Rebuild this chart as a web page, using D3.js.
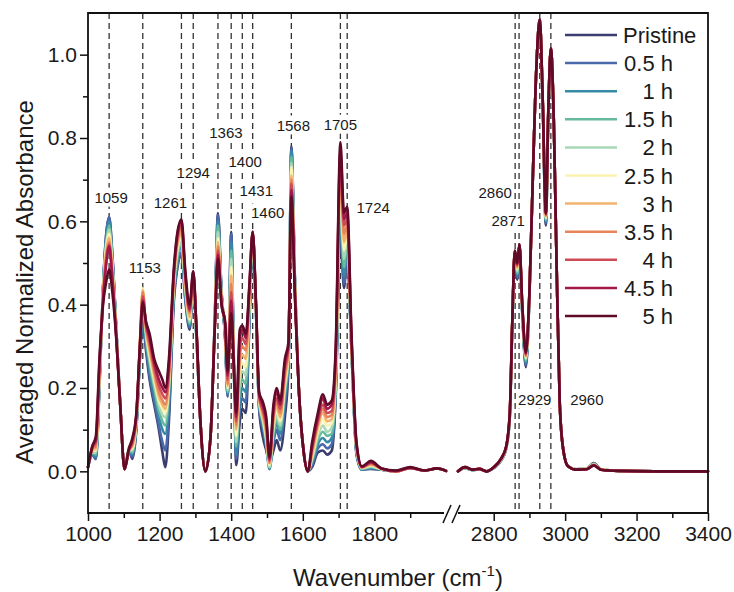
<!DOCTYPE html>
<html>
<head>
<meta charset="utf-8">
<script src="https://cdn.jsdelivr.net/npm/d3@7"></script>
<style>
  body { margin: 0; background: #fff; }
  text { font-family: Arial, "Liberation Sans", sans-serif; fill: #1a1a1a; }
</style>
</head>
<body>
<svg id="chart" width="734" height="592"></svg>
<script>
// wavenumber grids (left and right of the axis break)
const waveL = [1000,1012,1022,1032,1042,1050,1059,1068,1078,1090,1102,1114,1124,1135,1145,1153,1162,1172,1185,1198,
  1208,1216,1226,1240,1250,1261,1272,1284,1294,1303,1314,1328,1342,1354,1363,1373,1383,1390,1400,1407,
  1414,1424,1431,1441,1451,1460,1469,1478,1489,1498,1507,1518,1527,1537,1550,1560,1568,1578,1590,1602,
  1614,1626,1642,1656,1668,1681,1692,1705,1715,1724,1736,1750,1765,1790,1820,1860,1900,1940,1975,2000];
const waveR = [2700,2720,2740,2760,2780,2800,2820,2835,2845,2852,2859,2866,2872,2880,2890,2900,2910,2920,2929,2937,
  2946,2953,2960,2968,2976,2985,2995,3008,3030,3060,3080,3100,3150,3250,3400];

const seriesNames = ["Pristine", "0.5 h", "1 h", "1.5 h", "2 h", "2.5 h", "3 h", "3.5 h", "4 h", "4.5 h", "5 h"];
const seriesColors = ["#3b3d6e", "#4a69aa", "#3889a8", "#66bb9e", "#a9d8b6", "#fbf3b0",
  "#f2b36f", "#e8845a", "#cd4b57", "#a3174a", "#5f0b28"];

// absorbance, left segment
const absPristineL = [.01,.04,.03,.20,.44,.56,.61,.52,.36,.16,
  .005,.05,.03,.10,.27,.36,.29,.22,.16,.10,
  .045,.01,.12,.41,.49,.52,.41,.34,.45,.32,
  .12,0,.08,.36,.62,.43,.32,.18,.575,.28,
  .015,.12,.15,.14,.36,.565,.39,.15,.08,.05,
  .02,.05,.075,.05,.13,.25,.78,.46,.18,.05,
  0,.01,.045,.05,.04,.05,.18,.58,.44,.52,
  .29,.04,.004,.006,.004,0,.008,.002,.007,.001];
const abs05L = [.01,.04,.03,.21,.44,.56,.61,.52,.36,.16,
  .005,.05,.035,.105,.275,.37,.30,.23,.17,.11,
  .07,.05,.14,.42,.495,.525,.415,.345,.45,.32,
  .12,0,.08,.36,.615,.43,.32,.18,.57,.28,
  .03,.15,.175,.165,.37,.565,.39,.155,.10,.06,
  .01,.07,.10,.075,.16,.26,.775,.46,.18,.05,
  0,.015,.055,.065,.055,.065,.19,.60,.45,.53,
  .29,.045,.004,.007,.004,0,.008,.002,.007,.001];
const abs1L = [.01,.04,.035,.21,.44,.55,.60,.51,.36,.16,
  .005,.05,.04,.11,.28,.39,.31,.245,.185,.13,
  .10,.09,.17,.43,.505,.54,.425,.35,.455,.325,
  .12,0,.08,.355,.60,.425,.325,.185,.55,.28,
  .04,.17,.20,.19,.38,.565,.39,.16,.11,.06,
  .005,.08,.115,.09,.18,.27,.77,.455,.18,.05,
  0,.02,.065,.08,.07,.08,.20,.62,.47,.54,
  .295,.045,.005,.008,.004,0,.008,.002,.007,.001];
const abs15L = [.01,.045,.04,.22,.43,.54,.59,.50,.355,.16,
  .005,.05,.045,.115,.29,.41,.32,.26,.20,.145,
  .12,.11,.19,.44,.515,.545,.43,.355,.46,.325,
  .12,0,.08,.355,.59,.42,.33,.19,.53,.27,
  .06,.20,.22,.21,.39,.57,.395,.165,.115,.07,
  .01,.09,.125,.10,.19,.275,.755,.45,.18,.05,
  0,.025,.075,.095,.085,.09,.21,.645,.49,.55,
  .295,.05,.006,.01,.005,0,.008,.002,.007,.001];
const abs2L = [.01,.045,.045,.22,.43,.535,.58,.50,.35,.16,
  .005,.05,.05,.12,.30,.43,.33,.27,.21,.16,
  .135,.13,.20,.45,.525,.55,.44,.36,.46,.33,
  .12,0,.08,.35,.575,.42,.335,.195,.51,.27,
  .07,.22,.24,.23,.40,.57,.395,.17,.12,.075,
  .01,.10,.135,.11,.20,.28,.74,.45,.18,.05,
  0,.03,.085,.11,.095,.105,.22,.665,.51,.56,
  .30,.05,.007,.012,.005,0,.008,.002,.007,.001];
const abs25L = [.01,.05,.05,.23,.43,.53,.57,.49,.35,.16,
  .005,.05,.055,.12,.31,.44,.335,.28,.22,.17,
  .15,.14,.21,.455,.535,.56,.445,.365,.465,.33,
  .12,0,.08,.35,.56,.415,.34,.20,.49,.27,
  .085,.24,.26,.25,.41,.57,.40,.17,.125,.08,
  .015,.11,.145,.12,.21,.285,.73,.445,.18,.05,
  0,.035,.095,.125,.11,.115,.23,.69,.53,.57,
  .30,.055,.008,.014,.005,0,.008,.002,.007,.001];
const abs3L = [.01,.05,.055,.23,.42,.52,.56,.48,.345,.16,
  .005,.05,.06,.125,.31,.435,.34,.29,.23,.18,
  .16,.15,.22,.46,.545,.57,.45,.37,.47,.335,
  .12,0,.08,.35,.55,.41,.345,.205,.47,.27,
  .10,.26,.28,.27,.42,.57,.40,.175,.13,.09,
  .02,.12,.155,.13,.22,.29,.71,.44,.18,.05,
  0,.04,.105,.14,.12,.125,.24,.71,.55,.58,
  .305,.055,.009,.016,.006,0,.008,.002,.007,.001];
const abs35L = [.01,.055,.06,.24,.42,.51,.55,.47,.34,.16,
  .005,.05,.065,.13,.305,.43,.345,.30,.24,.19,
  .17,.16,.23,.47,.555,.58,.46,.38,.47,.335,
  .12,0,.08,.345,.54,.41,.35,.21,.45,.26,
  .11,.28,.30,.29,.43,.57,.40,.18,.14,.10,
  .02,.13,.165,.14,.235,.295,.70,.435,.18,.05,
  0,.05,.115,.15,.13,.135,.255,.73,.57,.59,
  .31,.06,.01,.018,.006,0,.008,.002,.007,.001];
const abs4L = [.01,.055,.07,.25,.41,.50,.545,.47,.34,.16,
  .005,.05,.07,.13,.30,.42,.35,.31,.25,.205,
  .185,.175,.24,.475,.56,.59,.465,.385,.475,.34,
  .12,0,.08,.345,.53,.405,.35,.22,.43,.26,
  .12,.30,.32,.305,.44,.575,.405,.18,.145,.11,
  .025,.14,.175,.15,.245,.30,.69,.43,.18,.05,
  0,.055,.12,.16,.14,.145,.27,.75,.59,.605,
  .315,.06,.01,.02,.006,0,.008,.002,.007,.001];
const abs45L = [.01,.06,.075,.26,.41,.49,.54,.46,.335,.16,
  .005,.05,.075,.135,.30,.41,.355,.32,.26,.22,
  .20,.19,.255,.48,.57,.60,.47,.39,.48,.34,
  .12,0,.08,.34,.52,.40,.355,.23,.41,.26,
  .13,.32,.34,.32,.445,.575,.405,.185,.155,.12,
  .03,.15,.19,.16,.26,.305,.675,.425,.18,.05,
  0,.06,.13,.175,.15,.16,.285,.77,.605,.62,
  .32,.065,.011,.022,.007,.001,.008,.002,.007,.001];
const abs5L = [.01,.06,.085,.27,.40,.45,.485,.43,.33,.16,
  .005,.055,.08,.14,.30,.405,.36,.33,.27,.24,
  .22,.20,.27,.49,.575,.605,.48,.40,.48,.34,
  .12,0,.08,.34,.51,.40,.36,.24,.38,.26,
  .14,.34,.35,.33,.45,.575,.41,.19,.165,.13,
  .035,.16,.20,.17,.27,.31,.66,.42,.18,.05,
  0,.07,.14,.185,.16,.17,.30,.79,.62,.635,
  .33,.07,.012,.025,.007,.002,.01,.002,.007,.001];

// absorbance, right segment
const absPristineR = [0,.008,.003,.005,0,.008,.025,.055,.13,.35,
  .52,.46,.535,.38,.25,.42,.72,.98,1.085,.89,
  .59,.86,1.015,.85,.50,.16,.05,.012,.005,.006,
  .02,.005,.001,0,0];
const abs05R = [0,.008,.003,.005,0,.008,.025,.055,.13,.35,
  .52,.465,.535,.38,.255,.42,.72,.98,1.085,.89,
  .595,.86,1.015,.85,.50,.16,.05,.012,.005,.006,
  .019,.005,.001,0,0];
const abs1R = [0,.008,.003,.005,0,.008,.026,.056,.132,.352,
  .522,.47,.537,.385,.26,.422,.72,.98,1.085,.892,
  .60,.862,1.015,.85,.50,.16,.05,.012,.005,.006,
  .018,.005,.001,0,0];
const abs15R = [0,.008,.003,.005,0,.008,.026,.056,.134,.353,
  .524,.475,.538,.388,.265,.424,.72,.98,1.085,.894,
  .603,.864,1.015,.85,.50,.16,.05,.012,.005,.006,
  .018,.005,.001,0,0];
const abs2R = [0,.009,.003,.005,0,.009,.027,.057,.136,.355,
  .525,.48,.54,.39,.27,.425,.72,.98,1.085,.895,
  .606,.865,1.015,.85,.50,.16,.05,.012,.005,.006,
  .017,.005,.001,0,0];
const abs25R = [0,.009,.004,.005,0,.009,.027,.057,.137,.356,
  .526,.485,.54,.392,.272,.426,.72,.98,1.085,.896,
  .609,.866,1.015,.85,.50,.16,.05,.012,.005,.006,
  .016,.005,.001,0,0];
const abs3R = [0,.009,.004,.006,0,.009,.028,.058,.138,.357,
  .527,.488,.542,.394,.275,.427,.72,.98,1.085,.897,
  .612,.867,1.015,.85,.50,.16,.05,.012,.005,.006,
  .016,.005,.001,0,0];
const abs35R = [0,.01,.004,.006,0,.01,.028,.058,.138,.358,
  .528,.491,.543,.396,.278,.428,.72,.98,1.085,.898,
  .614,.868,1.015,.85,.50,.16,.05,.012,.004,.005,
  .015,.004,.001,0,0];
const abs4R = [0,.01,.004,.006,0,.01,.029,.059,.139,.359,
  .529,.494,.544,.397,.28,.429,.72,.98,1.085,.899,
  .616,.869,1.015,.85,.50,.16,.05,.012,.004,.005,
  .015,.004,.001,0,0];
const abs45R = [0,.01,.004,.006,0,.01,.03,.06,.14,.36,
  .53,.497,.545,.399,.283,.43,.72,.98,1.085,.90,
  .618,.87,1.015,.85,.50,.16,.05,.012,.004,.005,
  .014,.004,.001,0,0];
const abs5R = [0,.01,.004,.006,0,.01,.03,.06,.14,.36,
  .53,.50,.545,.40,.285,.43,.72,.98,1.085,.90,
  .62,.87,1.015,.85,.50,.16,.05,.012,.004,.005,
  .014,.004,.001,0,0];

const leftSets = [absPristineL, abs05L, abs1L, abs15L, abs2L, abs25L, abs3L, abs35L, abs4L, abs45L, abs5L];
const rightSets = [absPristineR, abs05R, abs1R, abs15R, abs2R, abs25R, abs3R, abs35R, abs4R, abs45R, abs5R];

// marked bands and where their labels sit (label offset px, label level in absorbance units)
const peakWaves = [1059, 1153, 1261, 1294, 1363, 1400, 1431, 1460, 1568, 1705, 1724, 2860, 2871, 2929, 2960];
const peakLabelDx = [2, 2, -11, 0, 8, 14, 14, 15, 2, 0, 26, -20, -11, -5, 36];
const peakLabelLevel = [0.645, 0.475, 0.633, 0.705, 0.801, 0.731, 0.662, 0.607, 0.818, 0.82, 0.621, 0.657, 0.59, 0.16, 0.16];

const yMajor = [0, 0.2, 0.4, 0.6, 0.8, 1.0];
const yMinor = [0.1, 0.3, 0.5, 0.7, 0.9];
const xMajorL = [1000, 1200, 1400, 1600, 1800];
const xMinorL = [1100, 1300, 1500, 1700, 1900];
const xMajorR = [2800, 3000, 3200, 3400];
const xMinorR = [2900, 3100, 3300];

const svg = d3.select("#chart");
const plotL = 88, plotR = 708, plotT = 13, plotB = 513;

const xL = d3.scaleLinear().domain([1000, 2000]).range([plotL, 446]);
const xR = d3.scaleLinear().domain([2700, 3400]).range([458, plotR]);
const y = d3.scaleLinear().domain([-0.1, 1.1]).range([plotB, plotT]);
const xOf = w => (w < 2350 ? xL(w) : xR(w));

// dashed band markers
const marks = svg.append("g");
marks.selectAll("line")
  .data(peakWaves)
  .enter().append("line")
  .attr("x1", d => xOf(d)).attr("x2", d => xOf(d))
  .attr("y1", plotT).attr("y2", plotB)
  .attr("stroke", "#333").attr("stroke-width", 1.3)
  .attr("stroke-dasharray", "6,4");

// band labels with white backing so the dashes break around them
const lab = svg.append("g");
peakWaves.forEach((w, i) => {
  const g = lab.append("g");
  const t = g.append("text")
    .attr("x", xOf(w) + peakLabelDx[i])
    .attr("y", y(peakLabelLevel[i]))
    .attr("text-anchor", "middle")
    .attr("font-size", "15px")
    .text(w);
  const b = t.node().getBBox();
  g.insert("rect", "text")
    .attr("x", b.x - 2).attr("y", b.y - 1)
    .attr("width", b.width + 4).attr("height", b.height + 2)
    .attr("fill", "#fff");
});

// spectra
const lineL = d3.line().x((d, i) => xL(waveL[i])).y(d => y(d)).curve(d3.curveMonotoneX);
const lineR = d3.line().x((d, i) => xR(waveR[i])).y(d => y(d)).curve(d3.curveMonotoneX);
const spectra = svg.append("g").attr("fill", "none").attr("stroke-width", 2.6)
  .attr("stroke-linejoin", "round").attr("stroke-linecap", "round");
seriesNames.forEach((name, i) => {
  spectra.append("path").attr("d", lineL(leftSets[i])).attr("stroke", seriesColors[i]);
  spectra.append("path").attr("d", lineR(rightSets[i])).attr("stroke", seriesColors[i]);
});

// axes
function styleAxis(g) {
  g.select(".domain").remove();
  g.selectAll(".tick line").attr("stroke", "#111").attr("stroke-width", 1.5);
  g.selectAll(".tick text").attr("font-size", "21px").attr("fill", "#1a1a1a")
    .attr("font-family", "Arial, 'Liberation Sans', sans-serif");
}
svg.append("g").attr("transform", `translate(${plotL},0)`)
  .call(d3.axisLeft(y).tickValues(yMajor).tickFormat(d3.format(".1f")).tickSize(8).tickPadding(3))
  .call(styleAxis);
svg.append("g").attr("transform", `translate(${plotL},0)`)
  .call(d3.axisLeft(y).tickValues(yMinor).tickFormat("").tickSize(5))
  .call(styleAxis);
[[xL, xMajorL, xMinorL], [xR, xMajorR, xMinorR]].forEach(([sc, maj, min]) => {
  svg.append("g").attr("transform", `translate(0,${plotB})`)
    .call(d3.axisBottom(sc).tickValues(maj).tickFormat(d3.format("d")).tickSize(8).tickPadding(5))
    .call(styleAxis);
  svg.append("g").attr("transform", `translate(0,${plotB})`)
    .call(d3.axisBottom(sc).tickValues(min).tickFormat("").tickSize(5))
    .call(styleAxis);
});

// frame with the axis break
const brk = (xL(2000) + xR(2700)) / 2;
const frame = svg.append("g").attr("stroke", "#111").attr("stroke-width", 1.8).attr("fill", "none");
frame.append("path").attr("d", `M${brk - 8},${plotB}H${plotL}V${plotT}H${plotR}V${plotB}H${brk + 6}`);
[-5, 4].forEach(o => {
  frame.append("line")
    .attr("x1", brk + o - 4).attr("y1", plotB + 10)
    .attr("x2", brk + o + 4).attr("y2", plotB - 8)
    .attr("stroke-width", 1.5);
});

// axis titles
svg.append("text")
  .attr("transform", `translate(33,${(plotT + plotB) / 2 + 19}) rotate(-90)`)
  .attr("text-anchor", "middle").attr("font-size", "24px")
  .text("Averaged Normalized Absorbance");
const xt = svg.append("text")
  .attr("x", (plotL + plotR) / 2).attr("y", 586)
  .attr("text-anchor", "middle").attr("font-size", "24px");
xt.append("tspan").text("Wavenumber (cm");
xt.append("tspan").attr("font-size", "15px").attr("dy", -10).text("-1");
xt.append("tspan").attr("dy", 10).text(")");

// legend
const legend = svg.append("g");
seriesNames.forEach((name, i) => {
  const yy = 35 + i * 28.1;
  legend.append("line").attr("x1", 565).attr("x2", 617).attr("y1", yy).attr("y2", yy)
    .attr("stroke", seriesColors[i]).attr("stroke-width", 2.5);
  legend.append("text")
    .attr("x", i === 0 ? 623 : 673).attr("y", yy + 8)
    .attr("text-anchor", i === 0 ? "start" : "end")
    .attr("font-size", "22px")
    .text(name);
});
</script>
</body>
</html>
